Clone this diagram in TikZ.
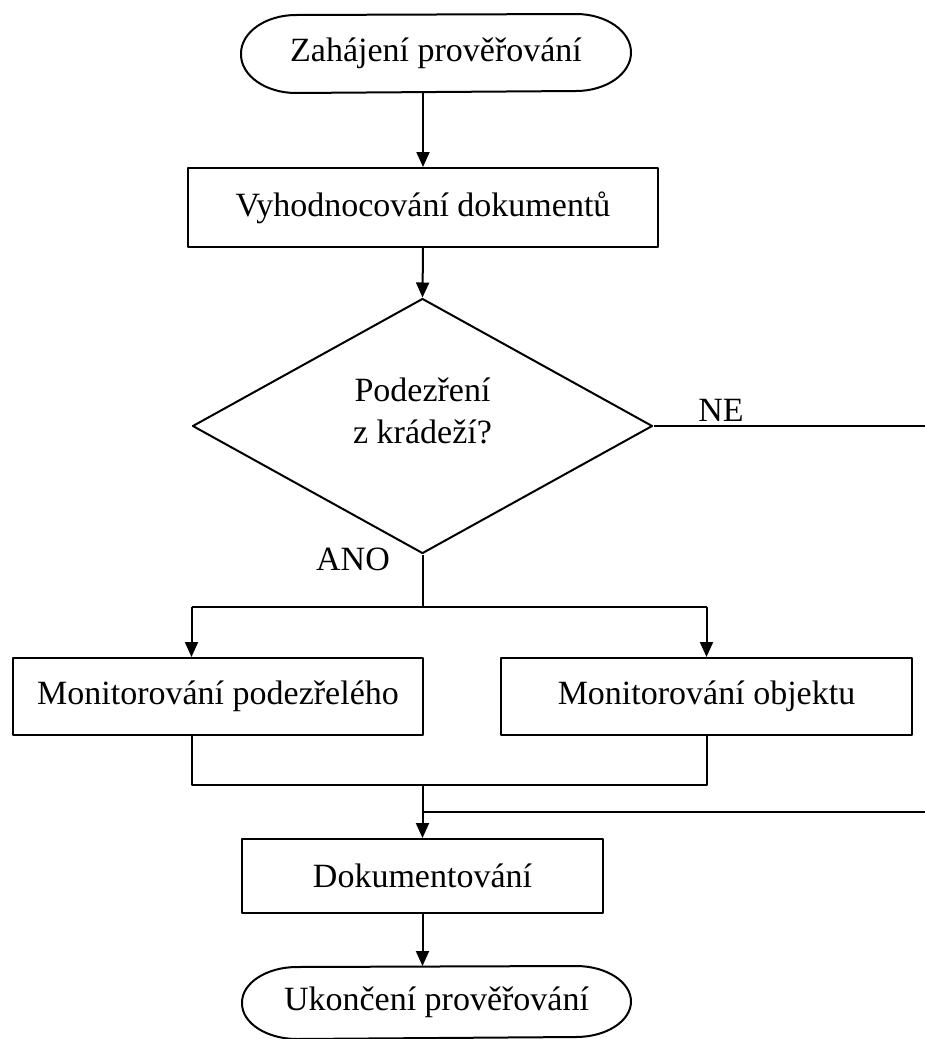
\documentclass[tikz,border=0pt]{standalone}
\usepackage{fontspec}
\setmainfont{Liberation Serif}
\usetikzlibrary{arrows.meta,shapes.geometric,calc}
\begin{document}
\begin{tikzpicture}[x=1pt,y=-1pt,
  line width=2pt, line join=round,
  every node/.style={font=\fontsize{34}{42}\selectfont},
  box/.style={draw, rectangle, inner sep=0pt},
  term/.style={rectangle, inner sep=0pt},
  decision/.style={draw, diamond, inner sep=0pt, minimum width=460pt, minimum height=255pt},
  arr/.style={-{Triangle[width=13pt,length=15pt]}},
  lbl/.style={inner sep=0pt}
]
\useasboundingbox (0,0) rectangle (924,1039);

% nodes
\node[term, minimum width=388pt, minimum height=77pt] (start) at (436,53.5) {Zahájení prověřování};
\node[box, minimum width=470pt, minimum height=79pt] (eval) at (423,207.5) {Vyhodnocování dokumentů};
\node[decision, label={[align=center, yshift=15pt]center:Podezření\\z krádeží?}] (dec) at (422.5,426) {};
\node[box, minimum width=410pt, minimum height=77pt] (monp) at (218,696.5) {Monitorování podezřelého};
\node[box, minimum width=411pt, minimum height=77pt] (mono) at (706.5,696.5) {Monitorování objektu};
\node[box, minimum width=361pt, minimum height=74pt] (doc) at (422.5,876) {Dokumentování};
\node[term, minimum width=387pt, minimum height=71pt] (end) at (436.5,1002.5) {Ukončení prověřování};

\node[lbl] (ne) at (721,410) {NE};
\node[lbl] (ano) at (353,559) {ANO};

% terminal outlines
\draw (start.west)
  arc[start angle=180, end angle=90, x radius=55pt, y radius=38.5pt]
  -- ([xshift=-55pt]start.north east)
  arc[start angle=90, end angle=-90, x radius=55pt, y radius=38.5pt]
  -- ([xshift=55pt]start.south west)
  arc[start angle=270, end angle=180, x radius=55pt, y radius=38.5pt] -- cycle;
\draw (end.west)
  arc[start angle=180, end angle=90, x radius=55pt, y radius=35.5pt]
  -- ([xshift=-55pt]end.north east)
  arc[start angle=90, end angle=-90, x radius=55pt, y radius=35.5pt]
  -- ([xshift=55pt]end.south west)
  arc[start angle=270, end angle=180, x radius=55pt, y radius=35.5pt] -- cycle;

% coordinates
\coordinate (split) at (422.5,607);
\coordinate (bl) at (191.5,607);
\coordinate (br) at (706.5,607);
\coordinate (jl) at (191.5,785);
\coordinate (jr) at (706.5,785);
\coordinate (jm) at (422.5,785);
\coordinate (ner) at (945,426);
\coordinate (ret) at (945,812);

% connectors
\draw[arr] (start.south -| eval.north) -- (eval.north);
\draw[arr] (eval.south) -- (dec.north);
\draw (dec.south) -- (split);
\draw (bl) -- (br);
\draw[arr] (bl) -- (bl |- monp.north);
\draw[arr] (br) -- (mono.north);
\draw (monp.south -| jl) -- (jl) -- (jr) -- (mono.south);
\draw[arr] (jm) -- (doc.north);
\draw (dec.east) -- (ner) -- (ret) -- (ret -| doc.north);
\draw[arr] (doc.south) -- (end.north -| doc.south);
\end{tikzpicture}
\end{document}
